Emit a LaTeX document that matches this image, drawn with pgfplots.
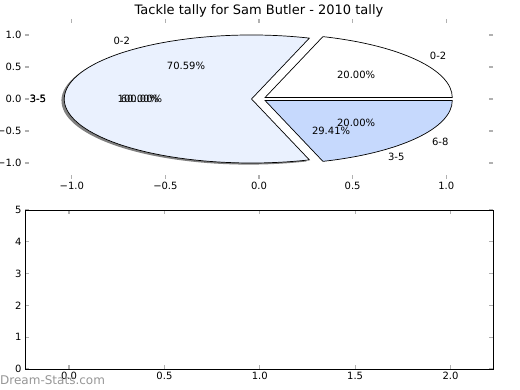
\documentclass[border=0pt]{standalone}
\usepackage{fontspec}
\setmainfont{DejaVu Sans}
\usepackage{pgfplots}
\pgfplotsset{compat=1.18}
\definecolor{lightslice}{RGB}{234,241,254}
\definecolor{blueslice}{RGB}{198,217,253}
\definecolor{tickgray}{RGB}{176,176,176}
\definecolor{wmgray}{RGB}{150,150,150}
% pie values (percent): 0-2 = 20, 3-5 = 60, 6-8 = 20 ; explode 0.04
% angles = 3.6 * cumulative percent
\newcommand{\rx}{187.2bp}
\newcommand{\ry}{64bp}
\begin{document}
\begin{tikzpicture}
\path[use as bounding box] (0,0) rectangle (520bp,390bp);
\pgfplotsset{
  every axis/.append style={
    scale only axis,
    tick align=inside,
    major tick length=4bp,
    tick style={color=tickgray, line width=1.2bp},
    tick label style={font=\fontsize{10bp}{12bp}\selectfont},
  }
}
\begin{axis}[
  at={(25bp,211bp)}, anchor=south west,
  width=468bp, height=160bp,
  xmin=-1.25, xmax=1.25, ymin=-1.25, ymax=1.25,
  axis line style={draw=none},
  xtick={-1,-0.5,0,0.5,1},
  xticklabels={−1.0,−0.5,0.0,0.5,1.0},
  ytick={-1,-0.5,0,0.5,1},
  yticklabels={−1.0,−0.5,0.0,0.5,1.0},
  title={Tackle tally for Sam Butler - 2010 tally},
  title style={at={(0.5,1)}, anchor=base, yshift=-1bp, font=\fontsize{13bp}{15bp}\selectfont},
  clip=false,
]
% shadow of the large slice (3-5, 60%)
\fill[black!50] (axis cs:-0.055,-0.025) -- ++(72:\rx\space and \ry) arc[start angle=72, end angle=288, x radius=\rx, y radius=\ry] -- cycle;
% slice 3-5 : 60% -> 72..288 deg, mid 180
\filldraw[fill=lightslice, draw=black, line width=0.7bp] (axis cs:-0.04,0) -- ++(72:\rx\space and \ry) arc[start angle=72, end angle=288, x radius=\rx, y radius=\ry] -- cycle;
% slice 0-2 : 20% -> 0..72 deg, mid 36
\filldraw[fill=white, draw=black, line width=0.7bp] (axis cs:0.0324,0.0235) -- ++(0:\rx\space and \ry) arc[start angle=0, end angle=72, x radius=\rx, y radius=\ry] -- cycle;
% slice 6-8 : 20% -> 288..360 deg, mid 324
\filldraw[fill=blueslice, draw=black, line width=0.7bp] (axis cs:0.0324,-0.0235) -- ++(288:\rx\space and \ry) arc[start angle=288, end angle=360, x radius=\rx, y radius=\ry] -- cycle;
% labels
\begin{scope}[every node/.style={font=\fontsize{10bp}{12bp}\selectfont, inner sep=0pt}]
\node at (axis cs:-0.733,0.906) {0-2};
\node at (axis cs:-0.39,0.516) {70.59\%};
\node at (axis cs:0.733,-0.906) {3-5};
\node at (axis cs:0.385,-0.50) {29.41\%};
\node at (axis cs:0.957,0.672) {0-2};
\node at (axis cs:0.519,0.375) {20.00\%};
\node at (axis cs:0.968,-0.672) {6-8};
\node at (axis cs:0.519,-0.375) {20.00\%};
\node at (axis cs:-1.18,0) {3-5};
\node at (axis cs:-1.182,0) {3-5};
\node at (axis cs:-0.636,0) {100.00\%};
\node at (axis cs:-0.636,0) {60.00\%};
\end{scope}
\end{axis}
\begin{axis}[
  at={(25bp,21bp)}, anchor=south west,
  width=468bp, height=159bp,
  xmin=-0.231, xmax=2.223, ymin=0, ymax=5,
  xtick={0,0.5,1,1.5,2},
  xticklabels={0.0,0.5,1.0,1.5,2.0},
  ytick={0,1,2,3,4,5},
  yticklabels={0,1,2,3,4,5},
  axis line style={black, line width=0.8bp},
]
\end{axis}
\node[anchor=west, text=wmgray, inner sep=0pt, font=\fontsize{12bp}{14bp}\selectfont] at (0bp,10bp) {Dream-Stats.com};
\end{tikzpicture}
\end{document}
